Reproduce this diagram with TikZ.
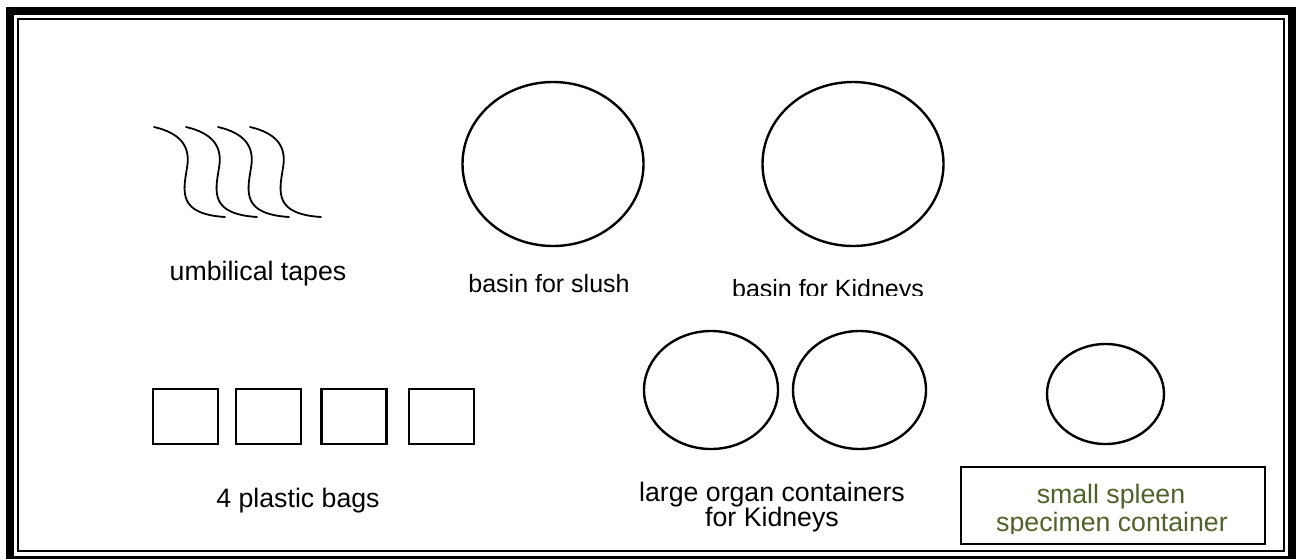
\documentclass[tikz,border=0pt]{standalone}
\usepackage{fontspec}
\setmainfont{Liberation Sans}
\usetikzlibrary{shapes.geometric}
\definecolor{olivetxt}{HTML}{4F6228}
\begin{document}
\begin{tikzpicture}[x=1pt,y=-1pt,
  basin/.style={draw,ellipse,line width=2.4pt,inner sep=0pt},
  bag/.style={draw,rectangle,line width=2.4pt,minimum width=65pt,minimum height=55pt,inner sep=0pt},
  tape/.style={line width=1.8pt,line cap=round},
  lbl/.style={font=\fontsize{25}{29}\selectfont,inner sep=0pt,anchor=base},
  biglbl/.style={lbl,font=\fontsize{26.7}{30}\selectfont},
  greenlbl/.style={biglbl,text=olivetxt}]
\useasboundingbox (0,0) rectangle (1296,558);
\clip (0,0) rectangle (1296,558);
% frame
\draw[line width=8pt] (10,11) rectangle (1292,560);
\draw[line width=2.6pt] (18,19) rectangle (1284,551);
% umbilical tapes
\foreach \dx in {0,32,64,96}{
  \draw[tape,shift={(\dx,0)}] (154,127) .. controls (180,133) and (191,146) .. (187,168)
     .. controls (183,192) and (178,214) .. (225,217);
}
\node[biglbl] (tapes) at (258,280) {umbilical tapes};
% basins
\node[basin,minimum width=181pt,minimum height=164pt] (slush) at (553,164) {};
\node[lbl] (slushlbl) at (549,292) {basin for slush};
\node[basin,minimum width=181pt,minimum height=164pt] (kidbasin) at (853,164) {};
\begin{scope}
\clip (700,260) rectangle (960,295);
\node[lbl] (kidbasinlbl) at (828,297) {basin for Kidneys};
\end{scope}
% plastic bags
\node[bag] (bag1) at (185.5,416.5) {};
\node[bag] (bag2) at (268.5,416.5) {};
\node[bag] (bag3) at (354,416.5) {};
\node[bag] (bag4) at (441.5,416.5) {};
\node[biglbl] (bagslbl) at (298,507) {4 plastic bags};
% large organ containers
\node[basin,minimum width=134pt,minimum height=118pt] (org1) at (711,390) {};
\node[basin,minimum width=133pt,minimum height=118pt] (org2) at (859.5,390) {};
\begin{scope}
\clip (600,460) rectangle (960,532);
\node[biglbl] (orglbl1) at (772,501) {large organ containers};
\node[biglbl] (orglbl2) at (772,526) {for Kidneys};
\end{scope}
% spleen container
\node[basin,minimum width=117pt,minimum height=100pt] (spleen) at (1105.5,394) {};
\node[draw,line width=1.8pt,minimum width=304pt,minimum height=77pt,inner sep=0pt] (spleenbox) at (1113,505.5) {};
\begin{scope}
\clip (965,470) rectangle (1262,533);
\node[greenlbl] (spleenlbl1) at (1111,503) {small spleen};
\node[greenlbl] (spleenlbl2) at (1112,531) {specimen container};
\end{scope}
\end{tikzpicture}
\end{document}
